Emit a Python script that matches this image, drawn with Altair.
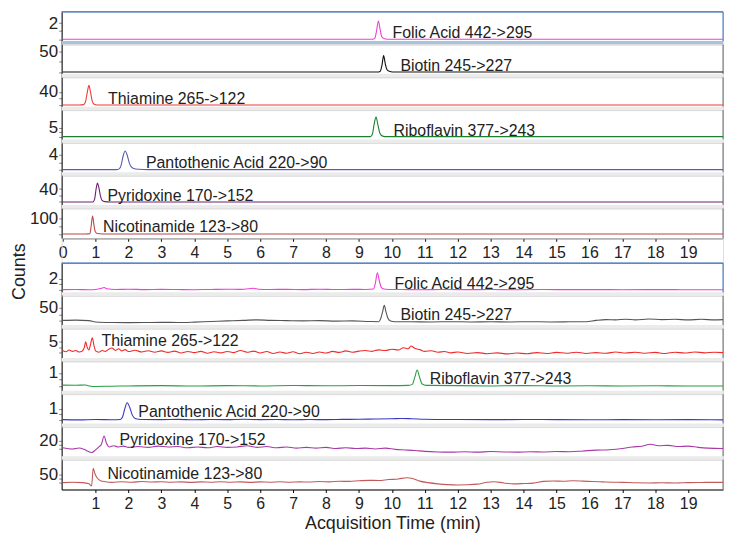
import altair as alt
import pandas as pd

# ---------------- data ----------------
COMPOUNDS = ["Folic Acid 442->295", "Biotin 245->227", "Thiamine 265->122",
             "Riboflavin 377->243", "Pantothenic Acid 220->90",
             "Pyridoxine 170->152", "Nicotinamide 123->80"]

# upper panel (standards): (time min, counts)
U_FOLIC = [(0, 0), (3, 0), (6, 0), (9, 0), (9.42, 0), (9.48, 0.1), (9.53, 0.9), (9.59, 2.25),
           (9.64, 1.3), (9.69, 0.35), (9.76, 0.08), (9.86, 0), (12, 0), (15, 0), (18, 0), (20.06, 0)]
U_BIOTIN = [(0, 0), (3, 0), (6, 0), (9, 0), (9.6, 0), (9.65, 2), (9.7, 16), (9.75, 39), (9.8, 20),
            (9.85, 6), (9.92, 1.5), (10.02, 0), (12, 0), (15, 0), (18, 0), (20.06, 0)]
U_THIAMINE = [(0, 0), (0.5, 0), (0.64, 1), (0.7, 12), (0.75, 40), (0.8, 60.6), (0.85, 38), (0.9, 12),
              (0.96, 2), (1.05, 0), (3, 0), (6, 0), (10, 0), (15, 0), (20.06, 0)]
U_RIBO = [(0, 0), (3, 0), (6, 0), (9, 0), (9.35, 0), (9.41, 1.5), (9.46, 7), (9.52, 11.3), (9.58, 6.5),
          (9.64, 1.8), (9.72, 0.3), (9.85, 0), (12, 0), (15, 0), (18, 0), (20.06, 0)]
U_PANTO = [(0, 0), (1, 0), (1.65, 0), (1.72, 0.2), (1.78, 1.3), (1.84, 3.8), (1.9, 5.09), (1.96, 4.0),
           (2.02, 2.0), (2.08, 0.8), (2.16, 0.3), (2.3, 0.08), (2.6, 0), (5, 0), (10, 0), (15, 0), (20.06, 0)]
U_PYRI = [(0, 0), (0.8, 0), (0.92, 0), (0.97, 8), (1.02, 42), (1.06, 58.5), (1.1, 45), (1.15, 18),
          (1.2, 5), (1.28, 1), (1.45, 0), (3, 0), (6, 0), (10, 0), (15, 0), (20.06, 0)]
U_NICO = [(0, 0), (0.7, 0), (0.83, 2), (0.87, 55), (0.91, 112.5), (0.95, 60), (0.99, 15), (1.05, 3),
          (1.2, 0), (3, 0), (6, 0), (10, 0), (15, 0), (20.06, 0)]

# lower panel (sample)
L_FOLIC = [(0, 0.05), (0.4, 0.08), (0.8, 0.03), (1.05, 0.12), (1.18, 0.3), (1.26, 0.42), (1.35, 0.2),
           (1.6, 0.08), (2.0, 0.12), (2.5, 0.05), (3.0, 0.1), (3.5, 0.06), (4.0, 0.03), (4.5, 0.08),
           (5.0, 0.12), (5.4, 0.1), (5.65, 0.2), (5.78, 0.3), (5.95, 0.12), (6.3, 0.08), (6.8, 0.1),
           (7.3, 0.05), (7.8, 0.12), (8.3, 0.06), (8.8, 0.1), (9.2, 0.08), (9.44, 0.15), (9.5, 1.2),
           (9.56, 3.06), (9.62, 1.6), (9.68, 0.45), (9.76, 0.15), (9.9, 0.08), (10.3, 0.06), (10.9, 0.03),
           (11.5, 0.07), (12.2, 0.04), (13.0, 0.06), (13.8, 0.03), (14.6, 0.06), (15.4, 0.04), (16.2, 0.05),
           (17.0, 0.03), (17.8, 0.05), (18.6, 0.04), (19.4, 0.03), (20.06, 0.04)]
L_BIOTIN = [(0, 2), (0.4, 3), (0.8, 1), (1.0, -4), (1.5, -6), (2.0, -6.5), (2.5, -6), (3.0, -5.5),
            (3.5, -6), (4.0, -4.5), (4.5, -2), (5.0, 0), (5.5, 2), (5.9, 4), (6.3, 2), (6.8, 1), (7.3, 0),
            (7.8, 1), (8.3, -1), (8.8, 0), (9.3, -2), (9.6, -3), (9.66, 8), (9.72, 35), (9.77, 59),
            (9.82, 35), (9.88, 10), (9.96, 0), (10.1, -3), (10.6, -3.5), (11.2, -4), (11.8, -3),
            (12.4, -4), (13.0, -3.5), (13.6, -4), (14.2, -3), (14.8, -4), (15.4, -3.5), (15.9, -3),
            (16.2, 2), (16.5, 5), (16.8, 4), (17.1, 6), (17.4, 4), (17.8, 7), (18.2, 5), (18.6, 6),
            (19.0, 4), (19.4, 6), (19.8, 4), (20.06, 5)]
L_THIAMINE = [(0, 1.0), (0.1, 0.4), (0.2, 1.2), (0.3, 0.6), (0.4, 1.0), (0.5, 0.3), (0.6, 0.8),
              (0.66, 2.5), (0.7, 5.1), (0.74, 2.8), (0.8, 1.2), (0.85, 4.0), (0.9, 7.0), (0.95, 3.5),
              (1.0, 0.8), (1.1, 0.2), (1.2, 1.0), (1.3, 0.6), (1.4, 1.6), (1.5, 2.2), (1.6, 1.0),
              (1.7, 1.8), (1.8, 0.8), (1.9, 1.4), (2.0, 0.5), (2.2, 1.1), (2.4, 0.3), (2.6, 0.9),
              (2.8, 0.2), (3.0, 0.8), (3.2, 0.1), (3.4, 0.7), (3.6, -0.2), (3.8, 0.5), (4.0, 0.0),
              (4.2, 0.6), (4.4, -0.3), (4.6, 0.4), (4.8, -0.1), (5.0, 0.5), (5.2, 0.0), (5.4, 1.0),
              (5.6, 0.2), (5.8, 0.7), (6.0, -0.2), (6.2, 0.5), (6.4, -0.4), (6.6, 0.3), (6.8, -0.3),
              (7.0, 0.4), (7.2, -0.5), (7.4, 0.2), (7.6, -0.4), (7.8, 0.3), (8.0, -0.2), (8.2, 0.6),
              (8.4, 0.1), (8.6, 0.8), (8.8, 0.2), (9.0, 0.7), (9.2, 1.0), (9.4, 0.6), (9.6, 1.3),
              (9.8, 1.0), (10.0, 1.6), (10.2, 1.2), (10.35, 2.3), (10.5, 1.8), (10.58, 3.1), (10.7, 2.0),
              (10.85, 1.4), (11.0, 0.6), (11.2, 0.9), (11.4, 0.2), (11.6, 0.5), (11.8, -0.1), (12.0, 0.3),
              (12.3, -0.4), (12.6, 0.0), (12.9, -0.5), (13.2, -0.1), (13.5, -0.6), (13.8, -0.2),
              (14.1, -0.5), (14.4, 0.0), (14.7, -0.4), (15.0, 0.1), (15.3, -0.3), (15.6, 0.2),
              (15.9, -0.4), (16.2, 0.0), (16.5, -0.3), (16.8, 0.3), (17.1, -0.2), (17.4, 0.2),
              (17.7, -0.3), (18.0, 0.1), (18.3, -0.4), (18.6, 0.2), (18.9, -0.2), (19.2, 0.3),
              (19.5, -0.1), (19.8, 0.2), (20.06, 0.0)]
L_RIBO = [(0, 0.06), (0.4, 0.05), (0.7, 0.07), (0.8, 0.0), (0.9, -0.04), (1.5, -0.02), (2.0, 0.0),
          (3.0, 0.02), (4.0, -0.01), (5.0, 0.02), (6.0, 0.0), (7.0, 0.03), (8.0, 0.01), (9.0, 0.03),
          (10.0, 0.02), (10.5, 0.04), (10.62, 0.12), (10.7, 0.7), (10.77, 1.23), (10.84, 0.7),
          (10.92, 0.15), (11.05, 0.04), (12, 0.02), (13, 0.0), (14, 0.02), (15, 0.0), (16, 0.01),
          (17, 0.0), (18, 0.01), (19, -0.01), (20.06, 0.0)]
L_PANTO = [(0, 0.02), (0.5, 0.0), (1.0, 0.03), (1.5, 0.01), (1.75, 0.03), (1.82, 0.25), (1.88, 0.9),
           (1.96, 1.53), (2.04, 1.1), (2.12, 0.4), (2.22, 0.1), (2.4, 0.03), (3, 0.02), (3.5, 0.04),
           (4, 0.01), (4.5, 0.03), (5, 0.02), (5.5, 0.05), (6, 0.02), (6.5, 0.03), (7, 0.01),
           (7.5, 0.03), (8, 0.02), (8.5, 0.04), (9, 0.05), (9.5, 0.08), (10, 0.1), (10.3, 0.12),
           (10.6, 0.1), (11, 0.06), (12, 0.03), (13, 0.02), (14, 0.03), (15, 0.02), (16, 0.01),
           (17, 0.02), (18, 0.01), (19, 0.02), (20.06, 0.0)]
L_PYRI = [(0, 3), (0.3, 0), (0.5, 2.5), (0.65, -1), (0.75, -5), (0.88, -9), (1.0, -2.5), (1.1, 5),
          (1.18, 12), (1.26, 32.5), (1.33, 15), (1.42, 5), (1.55, 8), (1.7, 5), (1.85, 7), (2.0, 4),
          (2.3, 6), (2.6, 4), (2.9, 7), (3.2, 5), (3.5, 6), (3.8, 3), (4.1, 5), (4.4, 3), (4.7, 6),
          (5.0, 4), (5.3, 5), (5.6, 8), (5.9, 4), (6.2, 6), (6.5, 3), (6.8, 5), (7.1, 2), (7.4, 4),
          (7.7, 2), (8.0, 4), (8.3, 1), (8.6, 3), (8.9, 1), (9.2, 2), (9.5, 0), (9.8, 2), (10.1, -1),
          (10.4, -2.5), (10.7, -4), (11.0, -6), (11.4, -7.5), (11.8, -8), (12.2, -7), (12.6, -8),
          (13.0, -6.5), (13.4, -7.5), (13.8, -8), (14.2, -7), (14.6, -7.5), (15.0, -6.5), (15.4, -7),
          (15.8, -5), (16.2, -3), (16.6, -2), (17.0, 1), (17.3, 5), (17.6, 7), (17.85, 12), (18.1, 8),
          (18.4, 9), (18.7, 6), (19.0, 7), (19.3, 4), (19.6, 2), (20.06, 1)]
L_NICO = [(0, 0), (0.3, 3), (0.6, 0), (0.8, -8), (0.88, -21), (0.93, 93.5), (0.98, 60), (1.05, 30),
          (1.15, 13), (1.3, 6), (1.5, 2), (1.8, 6), (2.1, 3), (2.4, 7), (2.7, 4), (3.0, 6), (3.3, 3),
          (3.6, 5), (3.9, 2), (4.2, 5), (4.5, 3), (4.8, 6), (5.1, 3), (5.4, 5), (5.7, 2), (6.0, 5),
          (6.3, 3), (6.6, 6), (6.9, 3), (7.2, 5), (7.5, 4), (7.8, 7), (8.1, 5), (8.4, 9), (8.7, 8),
          (9.0, 12), (9.3, 15), (9.6, 14), (9.9, 20), (10.2, 24), (10.45, 32), (10.65, 26), (10.85, 10),
          (11.1, 0), (11.4, -8), (11.7, -13), (12.0, -15), (12.3, -14), (12.6, -10), (12.9, 3),
          (13.1, 6), (13.4, -2), (13.7, -8), (14.0, -6), (14.3, -3), (14.6, 8), (14.9, 11), (15.2, 9),
          (15.5, 12), (15.8, 10), (16.1, 7), (16.4, 5), (16.7, 3), (17.0, 2), (17.4, -1), (17.8, -2),
          (18.2, -1), (18.6, -2), (19.0, 0), (19.4, 1), (19.8, 2), (20.06, 2)]

U_TRACES = [U_FOLIC, U_BIOTIN, U_THIAMINE, U_RIBO, U_PANTO, U_PYRI, U_NICO]
L_TRACES = [L_FOLIC, L_BIOTIN, L_THIAMINE, L_RIBO, L_PANTO, L_PYRI, L_NICO]

# labelled y tick per strip
U_TICKS = [[0, 1, 2], [0, 25, 50], [0, 20, 40], [0, 2.5, 5], [0, 2, 4], [0, 20, 40], [0, 50, 100]]
U_LABEL = [2, 50, 40, 5, 4, 40, 100]
L_TICKS = [[0, 1, 2], [0, 25, 50], [0, 2.5, 5], [0, 0.5, 1], [0, 0.5, 1], [0, 10, 20], [0, 25, 50]]
L_LABEL = [2, 50, 5, 1, 1, 20, 50]

# compound label anchor (time, counts)
U_NAME_POS = [(10.02, 0.77), (10.26, 14.3), (1.38, 17.5), (10.05, 3.27), (2.53, 1.91), (1.36, 18.5), (1.23, 43.7)]
L_NAME_POS = [(10.08, 1.12), (10.26, 21.4), (1.18, 5.47), (11.15, 0.56), (2.3, 0.73), (1.73, 21.8), (1.36, 58.5)]

X_TICKS_UPPER = list(range(0, 20))
X_TICKS_LOWER = list(range(1, 20))

# ---------------- styling ----------------
X_DOMAIN = [-0.03, 20.06]
U_DOM = [[-0.634, 3.387], [-12.47, 65.55], [-15.4, 85.4], [-3.49, 15.34], [-1.6, 7.32], [-19.4, 81.4], [-26.9, 160.6]]
L_DOM = [[-1.02, 4.78], [-28.35, 94.85], [-4.02, 11.29], [-0.62, 1.9], [-0.61, 2.29], [-26.5, 55.4], [-44.9, 149.9]]
U_COLORS = ["#ee3fd6", "#111111", "#ee3b3b", "#1a7f2e", "#5a5ab8", "#6e1f6e", "#b84a4a"]
L_COLORS = ["#ee3fd6", "#555555", "#f02b2b", "#2a9e42", "#3838c6", "#a83aa8", "#c25a5a"]

PLOT_W = 666
STRIP_H = 32.77
LAST_H = 30
BAND = 3.3
GAP_H = 24.7
FONT = "Liberation Sans"
TXT = "#222222"


def make_strip(pairs, color, dom, ticks, lab, name, pos, last, xaxis, top_border, band_color):
    height = LAST_H if last else STRIP_H
    df = pd.DataFrame(pairs, columns=["t", "v"])
    one = pd.DataFrame({"k": [0]})
    xs = alt.Scale(domain=X_DOMAIN, nice=False, zero=False)
    ys = alt.Scale(domain=dom, nice=False, zero=False)
    yaxis = alt.Axis(values=ticks, labelExpr=f"datum.value == {lab} ? '{lab}' : ''",
                     title=None, tickSize=3, tickColor="#888888", domainColor="#000000",
                     labelFontSize=17, labelColor=TXT, labelPadding=1, grid=False,
                     labelFont=FONT, labelOverlap=False)
    layers = []
    if not last:
        layers.append(alt.Chart(one).mark_rect(color=band_color).encode(
            x=alt.value(0), x2=alt.value(PLOT_W), y=alt.value(height - BAND), y2=alt.value(height)))
    edge_color = "#3468b5" if top_border else "#666666"
    layers.append(alt.Chart(one).mark_rule(color=edge_color, strokeWidth=1).encode(
        x=alt.value(PLOT_W), y=alt.value(0), y2=alt.value(height - (0 if last else BAND))))
    if top_border:
        layers.append(alt.Chart(one).mark_rule(color="#3468b5", strokeWidth=1.2).encode(
            x=alt.value(0), x2=alt.value(PLOT_W), y=alt.value(0)))
    layers.append(alt.Chart(df).mark_line(color=color, strokeWidth=1.1, interpolate="monotone").encode(
        x=alt.X("t:Q", scale=xs, axis=xaxis),
        y=alt.Y("v:Q", scale=ys, axis=yaxis)))
    lab_df = pd.DataFrame({"t": [pos[0]], "v": [pos[1]], "s": [name]})
    layers.append(alt.Chart(lab_df).mark_text(align="left", baseline="middle", fontSize=16,
                                              color=TXT, font=FONT).encode(
        x=alt.X("t:Q", scale=xs, axis=xaxis),
        y=alt.Y("v:Q", scale=ys, axis=yaxis), text="s:N"))
    return alt.layer(*layers).properties(width=PLOT_W, height=height)


def x_axis(values, title):
    kw = dict(values=values, tickSize=3, tickColor="#000000", domainColor="#000000",
              labelFontSize=16, labelColor=TXT, labelPadding=3.5, grid=False, labelFont=FONT,
              labelFlush=False, labelOverlap=False, labelSeparation=0, labelBound=False)
    if title:
        return alt.Axis(title=title, titleFontSize=18, titleFontWeight="normal", titleColor=TXT,
                        titleFont=FONT, titlePadding=2.5, **kw)
    return alt.Axis(title=None, **kw)


def group(traces, colors, doms, ticks, labels, positions, xvals, xtitle):
    strips = []
    for i in range(7):
        last = i == 6
        strips.append(make_strip(traces[i], colors[i], doms[i], ticks[i], labels[i], COMPOUNDS[i],
                                 positions[i], last, x_axis(xvals, xtitle) if last else None,
                                 i == 0, "#a9c3dd" if i == 0 and xtitle is None else "#ebebeb"))
    return strips


# invisible spacer between the two stacks (room for the upper time axis)
spacer = alt.Chart(pd.DataFrame({"k": [0]})).mark_point(opacity=0).encode(
    x=alt.value(0), y=alt.value(0)).properties(width=PLOT_W, height=GAP_H)

upper = group(U_TRACES, U_COLORS, U_DOM, U_TICKS, U_LABEL, U_NAME_POS, X_TICKS_UPPER, None)
lower = group(L_TRACES, L_COLORS, L_DOM, L_TICKS, L_LABEL, L_NAME_POS, X_TICKS_LOWER, "Acquisition Time (min)")

chart = alt.vconcat(*upper, spacer, *lower, spacing=0, bounds="flush").properties(
    title=alt.TitleParams("Counts", orient="left", anchor="middle", fontSize=18,
                          fontWeight="normal", color=TXT, font=FONT, offset=0),
    padding={"left": 3, "top": 0, "right": 4, "bottom": 4},
).configure_view(strokeWidth=0).configure(font=FONT).configure_axisX(labelOverlap=False)

chart.save("out.html", embed_options={"renderer": "svg", "actions": False})
